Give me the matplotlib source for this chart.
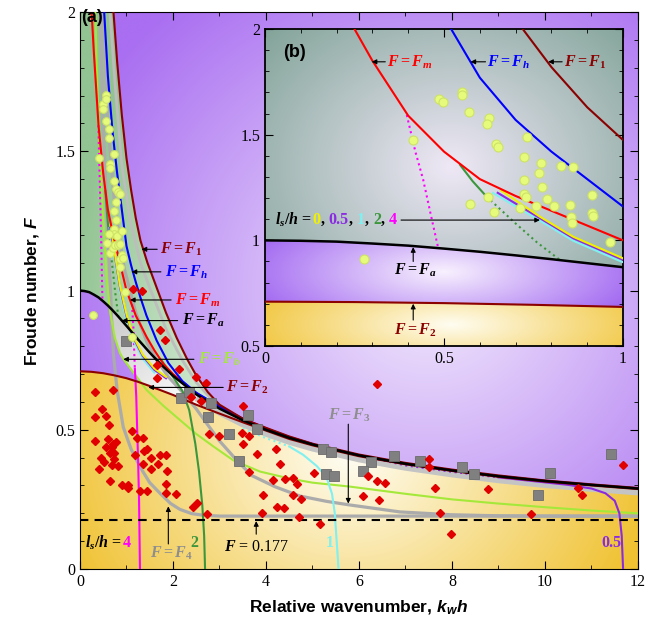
import numpy as np
import matplotlib
matplotlib.use('Agg')
import matplotlib.pyplot as plt
from matplotlib.patches import Polygon
from matplotlib import transforms
from matplotlib.colors import to_rgb
from matplotlib.ticker import MultipleLocator, FuncFormatter

plt.rcParams['font.family'] = 'Liberation Serif'
plt.rcParams['mathtext.fontset'] = 'custom'
plt.rcParams['mathtext.it'] = 'Liberation Serif:bold:italic'
plt.rcParams['mathtext.rm'] = 'Liberation Serif:bold'
plt.rcParams['mathtext.bf'] = 'Liberation Serif:bold'
plt.rcParams['mathtext.sf'] = 'Liberation Sans:bold:italic'

# ---- curves (k_w h, F) ----
fa_k = [0, 0.1, 0.2, 0.3, 0.4, 0.5, 0.6, 0.7, 0.8, 0.9, 1.0, 1.25, 1.5, 1.75, 2.0, 2.5, 3.0, 3.5, 4.0, 4.5, 5, 6, 7, 8, 9, 10, 11, 12]
fa_F = [1.0, 0.998, 0.994, 0.985, 0.975, 0.961, 0.946, 0.929, 0.911, 0.892, 0.873, 0.824, 0.777, 0.733, 0.694, 0.627, 0.576, 0.534, 0.5, 0.471, 0.447, 0.408, 0.378, 0.354, 0.333, 0.316, 0.302, 0.289]

f2_k = [0, 0.25, 0.5, 0.75, 1.0, 1.25, 1.5, 2.0, 2.5, 3.0, 3.5, 4.0, 4.5, 5, 6, 7, 8, 9, 10, 11, 12]
f2_F = [0.71, 0.708, 0.703, 0.695, 0.685, 0.672, 0.657, 0.625, 0.59, 0.558, 0.527, 0.497, 0.467, 0.444, 0.405, 0.376, 0.352, 0.331, 0.314, 0.3, 0.287]

f1_k = [0.72, 0.8, 0.9, 1.0, 1.1, 1.2, 1.3, 1.45, 1.65, 1.85, 2.08, 2.3, 2.5, 2.75, 3.0, 3.5, 4.0, 4.5, 5, 6, 7, 8, 9, 10, 11, 12]
f1_F = [2.0, 1.82, 1.63, 1.475, 1.36, 1.26, 1.18, 1.1, 1.01, 0.92, 0.83, 0.755, 0.695, 0.635, 0.59, 0.54, 0.507, 0.476, 0.45, 0.411, 0.381, 0.357, 0.336, 0.318, 0.304, 0.291]

fh_k = [0.52, 0.6, 0.7, 0.8, 0.9, 1.0, 1.1, 1.2, 1.3, 1.43, 1.65, 1.9, 2.2, 2.5, 3.0, 3.5, 4.0, 4.5, 5.0]
fh_F = [2.0, 1.77, 1.57, 1.42, 1.29, 1.16, 1.09, 1.03, 0.975, 0.91, 0.82, 0.74, 0.675, 0.633, 0.584, 0.54, 0.505, 0.474, 0.449]

fm_k = [0.25, 0.3, 0.4, 0.5, 0.6, 0.7, 0.8, 0.9, 1.0, 1.2, 1.43, 1.6, 1.8, 2.0, 2.5, 3.0, 3.5, 4.0, 4.5, 5.0]
fm_F = [2.0, 1.85, 1.59, 1.42, 1.29, 1.21, 1.14, 1.07, 1.0, 0.91, 0.834, 0.785, 0.735, 0.7, 0.632, 0.58, 0.537, 0.503, 0.473, 0.448]

fb_k = [0.33, 0.38, 0.45, 0.52, 0.57, 0.65, 0.75, 0.86, 0.93, 1.04, 1.22, 1.43, 1.8, 2.15, 2.5, 2.87, 3.3, 3.87, 4.5, 5.0, 5.8, 7.0, 8.0, 9.0, 10, 11, 12]
fb_F = [2.0, 1.7, 1.4, 1.2, 1.05, 0.92, 0.83, 0.775, 0.755, 0.73, 0.69, 0.643, 0.585, 0.535, 0.485, 0.44, 0.39, 0.35, 0.325, 0.31, 0.296, 0.27, 0.25, 0.235, 0.222, 0.21, 0.2]

f3_k = [0.5, 0.6, 0.75, 0.95, 1.2, 1.45, 1.65, 1.9, 2.22, 2.5, 2.72, 3.0, 3.4, 3.7, 4.2, 4.73, 5.3, 5.8, 6.88, 7.96, 9, 10, 12]
f3_F = [2.0, 1.6, 1.3, 1.08, 0.92, 0.81, 0.75, 0.69, 0.632, 0.575, 0.524, 0.46, 0.385, 0.335, 0.295, 0.262, 0.243, 0.23, 0.205, 0.195, 0.191, 0.19, 0.19]

f4_k = [0.43, 0.5, 0.57, 0.63, 0.68, 0.72, 0.8, 0.93, 1.1, 1.29, 1.5, 1.72, 1.95, 2.15, 2.4, 2.65, 3.0, 4.0, 12]
f4_F = [2.0, 1.6, 1.3, 1.1, 0.9, 0.77, 0.64, 0.51, 0.43, 0.367, 0.31, 0.272, 0.235, 0.214, 0.199, 0.193, 0.19, 0.19, 0.19]

fg_k = [0.645, 0.75, 0.9, 1.08, 1.3, 1.5, 1.86, 2.2, 2.5, 2.8, 3.2, 3.6]
fg_F = [2.0, 1.75, 1.45, 1.25, 1.1, 1.01, 0.858, 0.75, 0.67, 0.615, 0.565, 0.53]

# l_s/h curves
ls0_k = [0.66, 0.768, 0.861, 1.0, 1.15, 1.35, 1.6, 1.85]
ls0_F = [1.235, 1.112, 1.017, 0.915, 0.835, 0.77, 0.72, 0.69]
ls05_k = [0.65, 0.768, 0.861, 1.0, 1.15, 1.35, 1.6, 1.85]
ls05_F = [1.225, 1.105, 1.01, 0.908, 0.83, 0.765, 0.715, 0.685]
ls05_dot_k = [6.3, 7.0, 8.0, 9.0]
ls05_dot_F = [0.398, 0.372, 0.349, 0.329]
ls05_low_k = [9.0, 10.0, 10.5, 11.0, 11.3, 11.5, 11.6, 11.65, 11.68]
ls05_low_F = [0.329, 0.311, 0.302, 0.289, 0.272, 0.245, 0.2, 0.12, 0.0]
ls1_k = [0.637, 0.768, 0.861, 0.996, 1.15, 1.35, 1.6]
ls1_F = [1.224, 1.093, 0.998, 0.899, 0.82, 0.755, 0.705]
ls1_dot_k = [3.5, 4.0, 4.5]
ls1_dot_F = [0.505, 0.47, 0.44]
ls1_low_k = [4.5, 4.8, 5.09, 5.3, 5.42, 5.48, 5.52, 5.56]
ls1_low_F = [0.44, 0.41, 0.37, 0.33, 0.27, 0.2, 0.1, 0.0]
ls2_k = [0.545, 0.58, 0.619]
ls2_F = [1.357, 1.28, 1.207]
ls2_dot_k = [0.619, 0.7, 0.76, 0.824]
ls2_dot_F = [1.207, 1.08, 0.99, 0.907]
ls2_low_k = [1.75, 2.0, 2.2, 2.35, 2.48, 2.56, 2.63, 2.67, 2.69]
ls2_low_F = [0.75, 0.69, 0.64, 0.57, 0.45, 0.35, 0.23, 0.12, 0.0]
ls4_dot_k = [0.396, 0.42, 0.442, 0.462, 0.484]
ls4_dot_F = [1.593, 1.42, 1.286, 1.13, 0.962]
ls4_dot2_k = [1.12, 1.15, 1.18]
ls4_dot2_F = [0.95, 0.86, 0.72]
ls4_low_k = [1.18, 1.21, 1.23, 1.25, 1.27, 1.28, 1.29]
ls4_low_F = [0.72, 0.62, 0.5, 0.39, 0.25, 0.12, 0.0]

# ---- measured points ----
circ_k = [0.486, 0.496, 0.549, 0.549, 0.569, 0.627, 0.621, 0.645, 0.651, 0.414, 0.731, 0.723, 0.770, 0.765,
          0.723, 0.775, 0.828, 0.861, 0.723, 0.728, 0.788, 0.913, 0.624, 0.573, 0.640, 0.711, 0.757, 0.807,
          0.852, 0.855, 0.913, 0.916, 0.857, 0.964, 0.277, 1.11]
circ_F = [1.669, 1.653, 1.703, 1.688, 1.607, 1.580, 1.549, 1.456, 1.440, 1.475, 1.491, 1.393, 1.365, 1.317,
          1.286, 1.252, 1.352, 1.346, 1.221, 1.204, 1.196, 1.213, 1.204, 1.172, 1.136, 1.152, 1.163, 1.163,
          1.167, 1.112, 1.128, 1.117, 1.084, 0.994, 0.912, 0.834]

dia_k = [0.32, 0.72, 0.47, 0.32, 0.56, 0.63, 1.11, 0.32, 0.595, 0.774, 0.72, 0.56, 0.68, 1.22, 1.35, 0.645,
         0.74, 0.445, 0.516, 0.74, 0.68, 0.82, 0.40, 1.38, 1.45, 1.18, 1.53, 1.73, 1.84, 1.68, 1.36, 1.53,
         1.88, 0.645, 0.90, 1.04, 1.04, 1.29, 1.45, 1.84, 1.84, 2.06, 2.42, 2.52, 2.74,
         1.66, 1.66, 2.12, 2.49, 2.72, 2.39, 2.6, 3.5, 2.77, 3.0, 3.48, 3.63, 3.5, 3.8, 3.63,
         1.15, 1.33, 1.72, 1.83, 4.22, 6.38, 4.30, 4.16, 4.41, 4.59, 4.66, 4.59, 4.75, 3.93, 4.24, 4.39,
         3.91, 4.72, 5.16, 5.03, 6.2, 6.38, 6.56, 6.09, 6.42, 7.51, 7.51, 7.64, 7.74, 7.97, 8.77, 9.69,
         10.7, 10.8, 11.67]
dia_F = [0.637, 0.643, 0.573, 0.545, 0.549, 0.517, 0.497, 0.461, 0.466, 0.457, 0.449, 0.439, 0.437, 0.47,
         0.47, 0.418, 0.418, 0.397, 0.386, 0.394, 0.373, 0.37, 0.358, 0.425, 0.431, 0.408, 0.397, 0.408,
         0.408, 0.377, 0.377, 0.358, 0.353, 0.317, 0.30, 0.30, 0.29, 0.28, 0.28, 0.305, 0.274, 0.269,
         0.222, 0.238, 0.196,
         0.734, 0.686, 0.717, 0.688, 0.667, 0.616, 0.604, 0.585, 0.485, 0.478, 0.489, 0.478, 0.449, 0.412,
         0.349, 1.004, 0.999, 0.858, 0.822, 0.43, 0.664, 0.377, 0.32, 0.323, 0.326, 0.304, 0.266, 0.25,
         0.266, 0.224, 0.218, 0.202, 0.188, 0.16, 0.346, 0.335, 0.316, 0.31, 0.262, 0.248, 0.395, 0.365,
         0.29, 0.202, 0.127, 0.287, 0.197, 0.29, 0.267, 0.375]

sq_k = [0.99, 2.17, 2.35, 2.81, 2.75, 3.62, 3.2, 3.42, 3.8, 5.23, 5.39, 5.29, 5.46, 6.26, 6.08, 6.76,
        7.32, 8.22, 8.48, 10.11, 9.84, 11.43]
sq_F = [0.82, 0.613, 0.634, 0.595, 0.545, 0.553, 0.485, 0.388, 0.502, 0.43, 0.421, 0.341, 0.334, 0.385,
        0.352, 0.407, 0.388, 0.365, 0.34, 0.344, 0.265, 0.412]

C_DRED = '#8b0000'
C_LIME = '#a4e83a'
C_GRAY = '#ababab'
C_YEL = '#f0f000'
C_PUR = '#8a2be2'
C_CYAN = '#80f0f0'
C_GRN = '#3c963c'
C_MAG = '#ff00ff'

fig = plt.figure(figsize=(6.54, 6.22), dpi=100)
ax = fig.add_axes([0.1223, 0.0852, 0.8532, 0.8955])


def gradient(axis, xr, yr, center, radius, c_in, c_out, clip=None, z=0):
    xs = np.linspace(xr[0], xr[1], 400)
    ys = np.linspace(yr[0], yr[1], 400)
    X, Y = np.meshgrid(xs, ys)
    r = np.sqrt(((X - center[0]) / radius[0]) ** 2 + ((Y - center[1]) / radius[1]) ** 2)
    r = np.clip(r, 0, 1)[..., None]
    img = np.array(to_rgb(c_in)) * (1 - r) + np.array(to_rgb(c_out)) * r
    im = axis.imshow(img, extent=[xr[0], xr[1], yr[0], yr[1]], origin='lower',
                     aspect='auto', zorder=z, interpolation='bilinear')
    if clip is not None:
        im.set_clip_path(Polygon(clip, closed=True, transform=axis.transData))
    return im


def pts(ks, fs, lo=-1, hi=99):
    return [(k, f) for k, f in zip(ks, fs) if lo <= k <= hi]


# ---- main panel backgrounds ----
XR, YR = (0, 12), (0, 2)
gradient(ax, XR, YR, (7.5, 1.0), (8.5, 1.35), '#f3ebfd', '#a96ef1', z=0)
gradient(ax, XR, YR, (2.3, 0.6), (2.5, 0.35), '#fbfbfb', '#cfcfcf',
         clip=pts(fa_k, fa_F) + pts(f2_k, f2_F)[::-1], z=0.1)
gradient(ax, XR, YR, (7.5, 1.0), (8.5, 1.35), '#f3ebfd', '#a96ef1',
         clip=[(0, 0), (0, 2)] + pts(fb_k, fb_F) + [(12, 0)], z=0.2)
gradient(ax, XR, YR, (5.8, 0.42), (6.6, 0.95), '#fffef6', '#f0c232',
         clip=[(0, 0)] + pts(f2_k, f2_F) + [(12, 0)], z=0.3)
gradient(ax, XR, YR, (3.2, 0.5), (3.6, 1.7), '#dcf0dc', '#92c392',
         clip=[(0, 2)] + pts(f1_k, f1_F, hi=4.5) + pts(fa_k, fa_F, hi=4.5)[::-1], z=0.4)

band_tr = transforms.offset_copy(ax.transData, fig=fig, x=0, y=-3.5, units='dots')
bk = [k for k in fa_k if k >= 2.3]
bf = [f for k, f in zip(fa_k, fa_F) if k >= 2.3]
ax.plot(bk, bf, color='#c4c4c4', lw=5, transform=band_tr, zorder=1, solid_capstyle='butt')


def draw_curves(axis, lw=1.5):
    axis.plot(f4_k, f4_F, color=C_GRAY, lw=2.3, zorder=2)
    axis.plot(f3_k, f3_F, color=C_GRAY, lw=2.3, zorder=2)
    axis.plot(fg_k, fg_F, color='#bdbdbd', lw=2.0, zorder=2)
    axis.plot(fb_k, fb_F, color=C_LIME, lw=lw, zorder=3)
    axis.plot(ls2_k, ls2_F, color=C_GRN, lw=lw, zorder=3)
    axis.plot(ls2_dot_k, ls2_dot_F, color=C_GRN, lw=lw, ls=':', zorder=3)
    axis.plot(ls2_low_k, ls2_low_F, color=C_GRN, lw=lw, zorder=3)
    axis.plot(ls4_dot_k, ls4_dot_F, color=C_MAG, lw=lw, ls=':', zorder=3)
    axis.plot(ls4_dot2_k, ls4_dot2_F, color=C_MAG, lw=lw, ls=':', zorder=3)
    axis.plot(ls4_low_k, ls4_low_F, color=C_MAG, lw=lw, zorder=3)
    axis.plot(ls1_k, ls1_F, color=C_CYAN, lw=lw, zorder=3)
    axis.plot(ls1_dot_k, ls1_dot_F, color=C_CYAN, lw=lw, ls=':', zorder=3)
    axis.plot(ls1_low_k, ls1_low_F, color=C_CYAN, lw=lw, zorder=3)
    axis.plot(ls05_k, ls05_F, color=C_PUR, lw=lw, zorder=3)
    axis.plot(ls05_dot_k, ls05_dot_F, color=C_PUR, lw=lw, ls=':', zorder=3)
    axis.plot(ls05_low_k, ls05_low_F, color=C_PUR, lw=lw, zorder=3)
    axis.plot(ls0_k, ls0_F, color=C_YEL, lw=lw, zorder=3)
    axis.plot(f2_k, f2_F, color=C_DRED, lw=lw, zorder=4)
    axis.plot(fm_k, fm_F, color='#ff0000', lw=lw, zorder=4)
    axis.plot(fh_k, fh_F, color='#0000ff', lw=lw, zorder=4)
    axis.plot(f1_k, f1_F, color=C_DRED, lw=lw, zorder=4)
    axis.plot(fa_k, fa_F, color='k', lw=1.8, zorder=5)


draw_curves(ax)
ax.axhline(0.177, color='k', lw=1.5, ls=(0, (4, 3)), zorder=5)

ax.plot(sq_k, sq_F, 's', ms=6.5, mfc='#808080', mec='#6c6c6c', mew=0.6, zorder=7)
ax.plot(dia_k, dia_F, 'D', ms=4.5, mfc='#e00000', mec='#e00000', zorder=7)
ax.plot(circ_k, circ_F, 'o', ms=5.5, mfc='#e6fa7c', mec='#cde266', mew=0.8, zorder=7)

ax.set_xlim(0, 12)
ax.set_ylim(0, 2)
ax.xaxis.set_major_locator(MultipleLocator(2))
ax.xaxis.set_minor_locator(MultipleLocator(1))
ax.yaxis.set_major_locator(MultipleLocator(0.5))
ax.yaxis.set_minor_locator(MultipleLocator(0.1))
fmt = FuncFormatter(lambda v, p: f'{v:g}')
ax.xaxis.set_major_formatter(fmt)
ax.yaxis.set_major_formatter(fmt)
ax.tick_params(which='both', direction='in', top=True, right=True, labelsize=11.5)
ax.tick_params(which='major', length=6)
ax.tick_params(which='minor', length=3)
ax.set_xlabel(r'Relative wavenumber, $\mathsf{k_w h}$', fontsize=12.5, fontweight='bold',
              family='Liberation Sans', labelpad=6)
ax.set_ylabel(r'Froude number, $\mathsf{F}$', fontsize=12.5, fontweight='bold',
              family='Liberation Sans', labelpad=10)

arrow = dict(arrowstyle='-|>', color='k', lw=0.8, mutation_scale=7, shrinkA=0, shrinkB=0)
lab = dict(fontsize=11.5, va='center', zorder=9)


def label(axis, text, pos, tail, tip, color, ha='left'):
    axis.annotate('', xy=tip, xytext=tail, arrowprops=arrow, zorder=9)
    axis.text(pos[0], pos[1], text, color=color, ha=ha, **lab)


label(ax, r'$F = F_1$', (1.72, 1.148), (1.66, 1.148), (1.325, 1.148), C_DRED)
label(ax, r'$F = F_h$', (1.82, 1.067), (1.74, 1.067), (1.11, 1.067), '#0000ff')
label(ax, r'$F = F_m$', (2.04, 0.966), (1.96, 0.966), (1.075, 0.966), '#ff0000')
label(ax, r'$F = F_a$', (2.19, 0.892), (2.1, 0.892), (0.9, 0.892), 'k')
label(ax, r'$F = F_b$', (2.54, 0.753), (2.45, 0.753), (0.93, 0.753), C_LIME)
label(ax, r'$F = F_2$', (3.15, 0.652), (3.08, 0.652), (1.47, 0.652), C_DRED)
label(ax, r'$F = F_3$', (5.8, 0.553), (5.77, 0.52), (5.77, 0.235), '#8e8e8e', ha='center')
label(ax, r'$F = F_4$', (1.96, 0.055), (1.9, 0.09), (1.9, 0.225), '#8e8e8e', ha='center')
label(ax, r'$F$ = 0.177', (3.8, 0.08), (3.79, 0.125), (3.79, 0.172), 'k', ha='center')
ax.text(2.47, 0.095, '2', color=C_GRN, ha='center', fontweight='bold', **lab)
ax.text(5.38, 0.093, '1', color=C_CYAN, ha='center', fontweight='bold', **lab)
ax.text(11.43, 0.093, '0.5', color=C_PUR, ha='center', fontweight='bold', **lab)

renderer = fig.canvas.get_renderer()


def colored_text(axis, x, y, parts, **kw):
    tr = axis.transData
    for s, c in parts:
        t = axis.text(x, y, s, color=c, transform=tr, **kw)
        ex = t.get_window_extent(renderer)
        tr = transforms.offset_copy(t.get_transform(), x=ex.width, units='dots')


colored_text(ax, 0.1, 0.093, [(r'$l_s/h$ = ', 'k'), ('4', C_MAG)],
             fontsize=11.5, fontweight='bold', va='center', zorder=9)

fig.text(0.124, 0.972, '(a)', fontsize=13, fontweight='bold', family='Liberation Sans', va='center')

# ---- inset (b) ----
axin = fig.add_axes([0.4052, 0.4437, 0.5474, 0.5096])
IX, IY = (0, 1), (0.5, 2)
gradient(axin, IX, IY, (0.52, 1.35), (0.8, 1.1), '#efe8f6', '#739a8c', z=0)
gradient(axin, IX, IY, (0.5, 0.85), (0.62, 0.35), '#f8f1fe', '#9a5cf0',
         clip=pts(fa_k, fa_F, hi=1.0) + pts(f2_k, f2_F, hi=1.0)[::-1], z=0.1)
gradient(axin, IX, IY, (0.52, 0.6), (0.62, 0.3), '#fffdf2', '#f0c230',
         clip=[(0, 0.5)] + pts(f2_k, f2_F, hi=1.0) + [(1, 0.5)], z=0.2)

axin.plot(ls2_k, ls2_F, color=C_GRN, lw=1.5, zorder=3)
axin.plot(ls2_dot_k, ls2_dot_F, color=C_GRN, lw=1.5, ls=':', zorder=3)
axin.plot(ls4_dot_k, ls4_dot_F, color=C_MAG, lw=1.5, ls=':', zorder=3)
axin.plot(ls1_k, ls1_F, color=C_CYAN, lw=1.5, zorder=3)
axin.plot(ls05_k, ls05_F, color=C_PUR, lw=1.5, zorder=3)
axin.plot(ls0_k, ls0_F, color=C_YEL, lw=1.5, zorder=3)
axin.plot(f2_k, f2_F, color=C_DRED, lw=1.5, zorder=4)
axin.plot(fm_k, fm_F, color='#ff0000', lw=1.5, zorder=4)
axin.plot(fh_k, fh_F, color='#0000ff', lw=1.5, zorder=4)
axin.plot(f1_k, f1_F, color=C_DRED, lw=1.5, zorder=4)
axin.plot(fa_k, fa_F, color='k', lw=1.8, zorder=5)
axin.plot(circ_k, circ_F, 'o', ms=6.5, mfc='#e6fa7c', mec='#cde266', mew=0.8, zorder=7)

axin.set_xlim(0, 1)
axin.set_ylim(0.5, 2)
axin.xaxis.set_major_locator(MultipleLocator(0.5))
axin.xaxis.set_minor_locator(MultipleLocator(0.1))
axin.yaxis.set_major_locator(MultipleLocator(0.5))
axin.yaxis.set_minor_locator(MultipleLocator(0.1))
axin.xaxis.set_major_formatter(fmt)
axin.yaxis.set_major_formatter(fmt)
axin.tick_params(which='both', direction='in', top=True, right=True, labelsize=11.5)
axin.tick_params(which='major', length=6)
axin.tick_params(which='minor', length=3)
for s in axin.spines.values():
    s.set_linewidth(1.3)

label(axin, r'$F = F_m$', (0.34, 1.845), (0.336, 1.845), (0.298, 1.845), '#ff0000')
label(axin, r'$F = F_h$', (0.62, 1.845), (0.616, 1.845), (0.574, 1.845), '#0000ff')
label(axin, r'$F = F_1$', (0.834, 1.845), (0.83, 1.845), (0.791, 1.845), C_DRED)
label(axin, r'$F = F_a$', (0.42, 0.86), (0.414, 0.9), (0.414, 0.968), 'k', ha='center')
label(axin, r'$F = F_2$', (0.42, 0.576), (0.414, 0.623), (0.414, 0.7), C_DRED, ha='center')
axin.annotate('', xy=(0.768, 1.096), xytext=(0.38, 1.096), arrowprops=arrow, zorder=9)
colored_text(axin, 0.028, 1.096,
             [(r'$l_s/h$ = ', 'k'), ('0', C_YEL), (', ', 'k'), ('0.5', C_PUR), (', ', 'k'),
              ('1', C_CYAN), (', ', 'k'), ('2', C_GRN), (', ', 'k'), ('4', C_MAG)],
             fontsize=11.5, fontweight='bold', va='center', zorder=9)
axin.text(0.05, 1.89, '(b)', fontsize=13, fontweight='bold', family='Liberation Sans', va='center', zorder=9)

fig.savefig('out.png', dpi=100)
